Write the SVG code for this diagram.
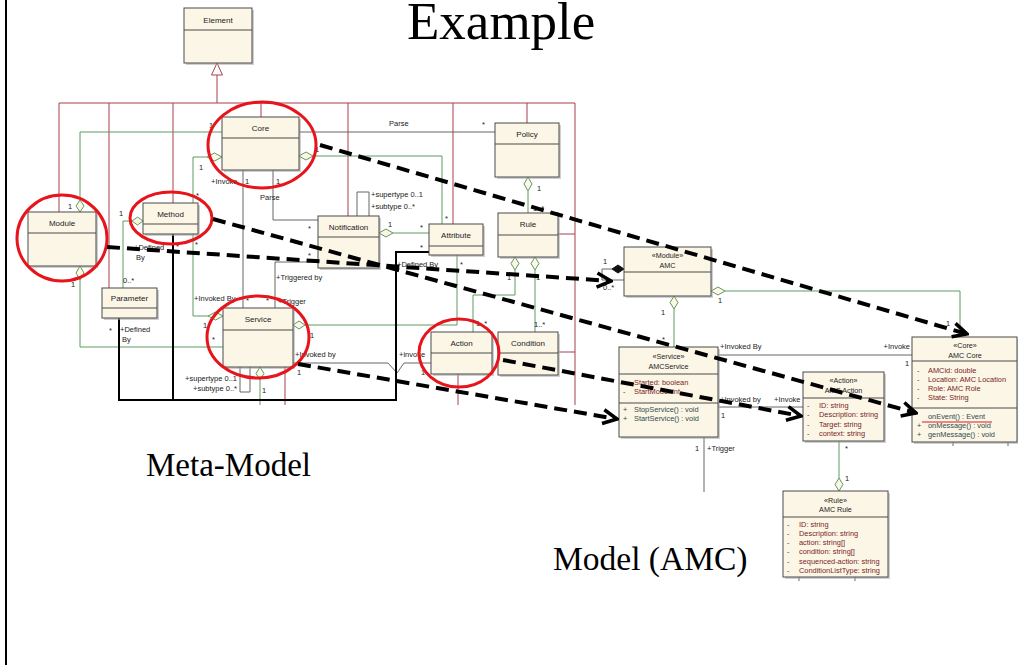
<svg xmlns="http://www.w3.org/2000/svg" width="1018" height="665" viewBox="0 0 1018 665">
  <defs>
    <style>
      .box{fill:#fcf6e7;stroke:#4a4a4a;stroke-width:1}
      .shadow{fill:#a8a8a8;opacity:.55}
      .div{stroke:#4a4a4a;stroke-width:1}
      .name{font-family:"Liberation Sans",Arial,sans-serif;font-size:8px;fill:#222;text-anchor:middle}
      .lbl{font-family:"Liberation Sans",Arial,sans-serif;font-size:7.5px;fill:#222}
      .st{font-family:"Liberation Sans",Arial,sans-serif;font-size:7.2px;fill:#222;text-anchor:middle}
      .attr{font-family:"Liberation Sans",Arial,sans-serif;font-size:7.4px;fill:#7a2424}
      .op{font-family:"Liberation Sans",Arial,sans-serif;font-size:7.4px;fill:#2e4c4c}
      .gen{fill:none;stroke:#a8404c;stroke-width:1}
      .agg{fill:none;stroke:#5e9a5e;stroke-width:1}
      .dia{fill:#fcf6e7;stroke:#5e9a5e;stroke-width:1}
      .asc{fill:none;stroke:#666;stroke-width:1}
      .blk{fill:none;stroke:#000;stroke-width:2}
      .map{fill:none;stroke:#000;stroke-width:4;stroke-dasharray:13 7;marker-end:url(#open)}
      .ring{fill:none;stroke:#e8141c;stroke-width:3}
      .title{font-family:"Liberation Serif","Times New Roman",serif;fill:#000}
    </style>
    <marker id="open" markerUnits="userSpaceOnUse" viewBox="0 0 18 18" refX="16" refY="9" markerWidth="18" markerHeight="18" orient="auto">
      <path d="M2,2 L16,9 L2,16" fill="none" stroke="#000" stroke-width="3.5" stroke-dasharray="none"/>
    </marker>
  </defs>

  <rect width="1018" height="665" fill="#fff"/>
  <line x1="6" y1="0" x2="6" y2="665" stroke="#000" stroke-width="2"/>

  <text class="title" x="407" y="39" font-size="53">Example</text>
  <text class="title" x="146" y="476" font-size="33">Meta-Model</text>
  <text class="title" x="553" y="570" font-size="33.5">Model (AMC)</text>

  <g id="connectors">
    <!-- generalization tree -->
    <polygon class="gen" points="217,63 211.5,75 222.5,75"/>
    <line class="gen" x1="217" y1="75" x2="217" y2="103"/>
    <line class="gen" x1="59" y1="103" x2="575" y2="103"/>
    <line class="gen" x1="59" y1="103" x2="59" y2="212"/>
    <line class="gen" x1="109" y1="103" x2="109" y2="288"/>
    <line class="gen" x1="173" y1="103" x2="173" y2="203"/>
    <line class="gen" x1="261" y1="103" x2="261" y2="117"/>
    <line class="gen" x1="348" y1="103" x2="348" y2="216"/>
    <line class="gen" x1="453" y1="103" x2="453" y2="224"/>
    <line class="gen" x1="527" y1="103" x2="527" y2="123"/>
    <line class="gen" x1="575" y1="103" x2="575" y2="405"/>
    <line class="gen" x1="558" y1="234" x2="575" y2="234"/>
    <line class="gen" x1="558" y1="352" x2="575" y2="352"/>
    <line class="gen" x1="285" y1="367" x2="285" y2="405"/>
    <line class="gen" x1="458" y1="374" x2="458" y2="405"/>

    <!-- aggregations (meta-model) -->
    <polyline class="agg" points="222,132 80,132 80,200"/>
    <polygon class="dia" points="80,200 84,206 80,212 76,206"/>
    <polyline class="agg" points="207,157 193,157 193,203"/>
    <polygon class="dia" points="222,157 214.5,161 207,157 214.5,153"/>
    <polyline class="agg" points="193,234 193,316 208,316"/>
    <polygon class="dia" points="223,316 215.5,320 208,316 215.5,312"/>
    <polyline class="agg" points="132,221 123,221 123,288"/>
    <polygon class="dia" points="143,221 137.5,225 132,221 137.5,217"/>
    <polyline class="agg" points="80,280 80,347 223,347"/>
    <polygon class="dia" points="80,266 84,273 80,280 76,273"/>
    <polyline class="agg" points="313,156 442,156 442,224"/>
    <polygon class="dia" points="299,156 306,160 313,156 306,152"/>
    <line class="agg" x1="393" y1="233" x2="429" y2="233"/>
    <polygon class="dia" points="379,233 386,237 393,233 386,229"/>
    <polyline class="agg" points="457,255 457,325 305,325"/>
    <polygon class="dia" points="293,325 299,329 305,325 299,321"/>
    <line class="agg" x1="528" y1="191" x2="528" y2="213"/>
    <polygon class="dia" points="528,177 532,184 528,191 524,184"/>
    <polyline class="agg" points="515,270 515,295 473,295 473,332"/>
    <polygon class="dia" points="515,257 519,263.5 515,270 511,263.5"/>
    <line class="agg" x1="535" y1="270" x2="535" y2="332"/>
    <polygon class="dia" points="535,257 539,263.5 535,270 531,263.5"/>
    <line class="agg" x1="260" y1="380" x2="260" y2="405"/>
    <polygon class="dia" points="260,367 264,373.5 260,380 256,373.5"/>

    <!-- associations (meta-model) -->
    <line class="asc" x1="243" y1="170" x2="243" y2="308"/>
    <polyline class="asc" points="273,170 273,220 318,220"/>
    <polyline class="asc" points="275,308 275,262 318,262"/>
    <line class="asc" x1="299" y1="132" x2="495" y2="132"/>
    <polyline class="asc" points="357,216 357,192 369,192 369,216"/>
    <polyline class="asc" points="240,367 240,392 250,392 250,367"/>
    <polyline class="asc" points="293,363 388,363 397,373 404,363 431,363"/>

    <!-- "Defined By" links -->
    <polyline class="blk" points="119,318 119,400 396,400 396,252 429,252"/>
    <line class="blk" x1="173" y1="234" x2="173" y2="400"/>

    <!-- model (AMC) links -->
    <polyline class="asc" points="612,269 602,269 602,280 624,280"/>
    <polygon points="624,269 618,273 612,269 618,265" fill="#111" stroke="#111" stroke-width="1"/>
    <polyline class="agg" points="725,291 960,291 960,337"/>
    <polygon class="dia" points="711,291 718,295 725,291 718,287"/>
    <line class="agg" x1="674" y1="309" x2="674" y2="347"/>
    <polygon class="dia" points="674,296 678,302.5 674,309 670,302.5"/>
    <line class="agg" x1="839" y1="441" x2="839" y2="478"/>
    <polygon class="dia" points="839,478 843,484.5 839,491 835,484.5"/>
    <line class="asc" x1="718" y1="355" x2="912" y2="355"/>
    <line class="asc" x1="718" y1="407" x2="803" y2="407"/>
    <line class="asc" x1="704" y1="437" x2="704" y2="492"/>
    <line class="asc" x1="799" y1="577" x2="799" y2="581"/>
    <line class="asc" x1="855" y1="577" x2="855" y2="581"/>
    <line class="asc" x1="953" y1="442" x2="953" y2="446"/>
    <line class="asc" x1="1008" y1="442" x2="1008" y2="446"/>

    <!-- end labels -->
    <g class="lbl">
      <text x="209" y="128">1</text>
      <text x="68" y="209">1</text>
      <text x="211" y="184">+Invoke</text>
      <text x="245" y="184">1</text>
      <text x="276" y="184">1</text>
      <text x="260" y="200">Parse</text>
      <text x="199" y="170">1</text>
      <text x="196" y="198">*</text>
      <text x="119" y="216">1</text>
      <text x="134" y="250">+Defined</text>
      <text x="136" y="260">By</text>
      <text x="176" y="249">*</text>
      <text x="195" y="247">*</text>
      <text x="123" y="283">0..*</text>
      <text x="71" y="287">1</text>
      <text x="109" y="333">*</text>
      <text x="120" y="332">+Defined</text>
      <text x="122" y="342">By</text>
      <text x="194" y="301">+Invoked By</text>
      <text x="246" y="303">*</text>
      <text x="266" y="303">*</text>
      <text x="278" y="304">+Trigger</text>
      <text x="276" y="280">+Triggered by</text>
      <text x="308" y="231">*</text>
      <text x="308" y="258">*</text>
      <text x="371" y="197">+supertype 0..1</text>
      <text x="371" y="209">+subtype 0..*</text>
      <text x="388" y="227">1</text>
      <text x="420" y="230">*</text>
      <text x="420" y="250">*</text>
      <text x="445" y="221">*</text>
      <text x="315" y="152">1</text>
      <text x="389" y="126">Parse</text>
      <text x="482" y="127">*</text>
      <text x="397" y="267">+Defined By</text>
      <text x="460" y="267">*</text>
      <text x="310" y="338">1</text>
      <text x="203" y="328">1</text>
      <text x="212" y="342">*</text>
      <text x="295" y="357">+Invoked by</text>
      <text x="297" y="375">1</text>
      <text x="399" y="357">+invoke</text>
      <text x="421" y="375">1</text>
      <text x="476" y="326">1..*</text>
      <text x="534" y="327">1..*</text>
      <text x="537" y="191">1</text>
      <text x="533" y="211">1..*</text>
      <text x="507" y="280">1</text>
      <text x="536" y="280">1</text>
      <text x="237" y="381" text-anchor="end">+supertype 0..1</text>
      <text x="237" y="391" text-anchor="end">+subtype 0..*</text>
      <text x="262" y="393">1</text>

      <text x="603" y="264">1</text>
      <text x="603" y="290">0..*</text>
      <text x="718" y="303">1</text>
      <text x="661" y="315">1</text>
      <text x="662" y="342">*</text>
      <text x="946" y="326">1</text>
      <text x="720" y="349">+Invoked By</text>
      <text x="910" y="349" text-anchor="end">+Invoke</text>
      <text x="905" y="366">1</text>
      <text x="720" y="402">+Invoked by</text>
      <text x="774" y="402">+Invoke</text>
      <text x="721" y="418">1</text>
      <text x="695" y="451">1</text>
      <text x="707" y="451">+Trigger</text>
      <text x="845" y="451">*</text>
      <text x="845" y="481">1</text>
    </g>
  </g>

  <!-- meta-model classes -->
  <g id="element">
    <rect class="shadow" x="186" y="10" width="68" height="55"/>
    <rect class="box" x="184" y="8" width="68" height="55"/>
    <line class="div" x1="184" y1="30" x2="252" y2="30"/>
    <text class="name" x="218" y="23">Element</text>
  </g>
  <g id="core">
    <rect class="shadow" x="224" y="119" width="77" height="53"/>
    <rect class="box" x="222" y="117" width="77" height="53"/>
    <line class="div" x1="222" y1="138" x2="299" y2="138"/>
    <text class="name" x="260.5" y="131">Core</text>
  </g>
  <g id="module">
    <rect class="shadow" x="30" y="214" width="68" height="54"/>
    <rect class="box" x="28" y="212" width="68" height="54"/>
    <line class="div" x1="28" y1="233" x2="96" y2="233"/>
    <text class="name" x="62" y="226">Module</text>
  </g>
  <g id="method">
    <rect class="shadow" x="145" y="205" width="55" height="31"/>
    <rect class="box" x="143" y="203" width="55" height="31"/>
    <line class="div" x1="143" y1="224" x2="198" y2="224"/>
    <text class="name" x="170.5" y="217">Method</text>
  </g>
  <g id="parameter">
    <rect class="shadow" x="104" y="290" width="55" height="30"/>
    <rect class="box" x="102" y="288" width="55" height="30"/>
    <line class="div" x1="102" y1="308" x2="157" y2="308"/>
    <text class="name" x="129.5" y="301">Parameter</text>
  </g>
  <g id="service">
    <rect class="shadow" x="225" y="310" width="70" height="59"/>
    <rect class="box" x="223" y="308" width="70" height="59"/>
    <line class="div" x1="223" y1="330" x2="293" y2="330"/>
    <text class="name" x="258" y="322">Service</text>
  </g>
  <g id="notification">
    <rect class="shadow" x="320" y="218" width="61" height="52"/>
    <rect class="box" x="318" y="216" width="61" height="52"/>
    <line class="div" x1="318" y1="237" x2="379" y2="237"/>
    <text class="name" x="348.5" y="230">Notification</text>
  </g>
  <g id="attribute">
    <rect class="shadow" x="431" y="226" width="54" height="31"/>
    <rect class="box" x="429" y="224" width="54" height="31"/>
    <line class="div" x1="429" y1="246" x2="483" y2="246"/>
    <text class="name" x="456" y="238">Attribute</text>
  </g>
  <g id="policy">
    <rect class="shadow" x="497" y="125" width="64" height="54"/>
    <rect class="box" x="495" y="123" width="64" height="54"/>
    <line class="div" x1="495" y1="144" x2="559" y2="144"/>
    <text class="name" x="527" y="137">Policy</text>
  </g>
  <g id="rule">
    <rect class="shadow" x="500" y="215" width="60" height="44"/>
    <rect class="box" x="498" y="213" width="60" height="44"/>
    <line class="div" x1="498" y1="235" x2="558" y2="235"/>
    <text class="name" x="528" y="227">Rule</text>
  </g>
  <g id="action">
    <rect class="shadow" x="433" y="334" width="61" height="42"/>
    <rect class="box" x="431" y="332" width="61" height="42"/>
    <line class="div" x1="431" y1="353" x2="492" y2="353"/>
    <text class="name" x="461.5" y="346">Action</text>
  </g>
  <g id="condition">
    <rect class="shadow" x="500" y="334" width="60" height="43"/>
    <rect class="box" x="498" y="332" width="60" height="43"/>
    <line class="div" x1="498" y1="353" x2="558" y2="353"/>
    <text class="name" x="528" y="346">Condition</text>
  </g>

  <!-- AMC model classes -->
  <g id="amc">
    <rect class="shadow" x="626" y="249" width="87" height="49"/>
    <rect class="box" x="624" y="247" width="87" height="49"/>
    <line class="div" x1="624" y1="272" x2="711" y2="272"/>
    <text class="st" x="667.5" y="258">«Module»</text>
    <text class="st" x="667.5" y="268">AMC</text>
  </g>
  <g id="amc-service">
    <rect class="shadow" x="621" y="349" width="99" height="90"/>
    <rect class="box" x="619" y="347" width="99" height="90"/>
    <line class="div" x1="619" y1="374" x2="718" y2="374"/>
    <line class="div" x1="619" y1="403" x2="718" y2="403"/>
    <text class="st" x="668.5" y="359">«Service»</text>
    <text class="st" x="668.5" y="369">AMCService</text>
    <text class="attr" x="623" y="385">-</text><text class="attr" x="634" y="385">Started:  boolean</text>
    <text class="attr" x="623" y="394">-</text><text class="attr" x="634" y="394">StartMode:  int</text>
    <text class="op" x="623" y="412">+</text><text class="op" x="634" y="412">StopService() : void</text>
    <text class="op" x="623" y="421">+</text><text class="op" x="634" y="421">StartService() : void</text>
  </g>
  <g id="amc-action">
    <rect class="shadow" x="805" y="374" width="81" height="69"/>
    <rect class="box" x="803" y="372" width="81" height="69"/>
    <line class="div" x1="803" y1="398" x2="884" y2="398"/>
    <text class="st" x="843.5" y="383">«Action»</text>
    <text class="st" x="843.5" y="393">AMC Action</text>
    <text class="attr" x="807" y="408">-</text><text class="attr" x="819" y="408">ID:  string</text>
    <text class="attr" x="807" y="417">-</text><text class="attr" x="819" y="417">Description:  string</text>
    <text class="attr" x="807" y="427">-</text><text class="attr" x="819" y="427">Target:  string</text>
    <text class="attr" x="807" y="436">-</text><text class="attr" x="819" y="436">context:  string</text>
  </g>
  <g id="amc-core">
    <rect class="shadow" x="914" y="339" width="104" height="105"/>
    <rect class="box" x="912" y="337" width="105" height="105"/>
    <line class="div" x1="912" y1="361" x2="1017" y2="361"/>
    <line class="div" x1="912" y1="408" x2="1017" y2="408"/>
    <text class="st" x="965" y="348">«Core»</text>
    <text class="st" x="965" y="358">AMC Core</text>
    <text class="attr" x="917" y="373">-</text><text class="attr" x="928" y="373">AMCid:  double</text>
    <text class="attr" x="917" y="382">-</text><text class="attr" x="928" y="382">Location:  AMC Location</text>
    <text class="attr" x="917" y="391">-</text><text class="attr" x="928" y="391">Role:  AMC Role</text>
    <text class="attr" x="917" y="400">-</text><text class="attr" x="928" y="400">State:  String</text>
    <text class="op" x="928" y="419">onEvent() : Event</text>
    <line x1="922" y1="422" x2="992" y2="422" stroke="#e8141c" stroke-width="1"/>
    <text class="op" x="917" y="428">+</text><text class="op" x="928" y="428">onMessage() : void</text>
    <text class="op" x="917" y="437">+</text><text class="op" x="928" y="437">genMessage() : void</text>
  </g>
  <g id="amc-rule">
    <rect class="shadow" x="785" y="493" width="105" height="86"/>
    <rect class="box" x="783" y="491" width="105" height="86"/>
    <line class="div" x1="783" y1="517" x2="888" y2="517"/>
    <text class="st" x="835.5" y="503">«Rule»</text>
    <text class="st" x="835.5" y="512">AMC Rule</text>
    <text class="attr" x="787" y="527">-</text><text class="attr" x="799" y="527">ID:  string</text>
    <text class="attr" x="787" y="536">-</text><text class="attr" x="799" y="536">Description:  string</text>
    <text class="attr" x="787" y="545">-</text><text class="attr" x="799" y="545">action:  string[]</text>
    <text class="attr" x="787" y="554">-</text><text class="attr" x="799" y="554">condition:  string[]</text>
    <text class="attr" x="787" y="564">-</text><text class="attr" x="799" y="564">sequenced-action:  string</text>
    <text class="attr" x="787" y="573">-</text><text class="attr" x="799" y="573">ConditionListType:  string</text>
  </g>

  <!-- highlighted meta-classes -->
  <g id="highlights">
    <ellipse class="ring" cx="262" cy="145" rx="54" ry="43"/>
    <ellipse class="ring" cx="62" cy="238" rx="45" ry="43"/>
    <ellipse class="ring" cx="171" cy="218" rx="41" ry="26"/>
    <ellipse class="ring" cx="258" cy="337" rx="51" ry="41"/>
    <ellipse class="ring" cx="459" cy="353" rx="40" ry="34"/>
  </g>

  <!-- meta-class to model-class mappings -->
  <g id="mappings">
    <line class="map" x1="320" y1="145" x2="967" y2="334"/>
    <line class="map" x1="213" y1="219" x2="916" y2="413"/>
    <line class="map" x1="107" y1="247" x2="611" y2="281"/>
    <line class="map" x1="298" y1="364" x2="617" y2="419"/>
    <line class="map" x1="503" y1="360" x2="801" y2="416"/>
  </g>
</svg>
